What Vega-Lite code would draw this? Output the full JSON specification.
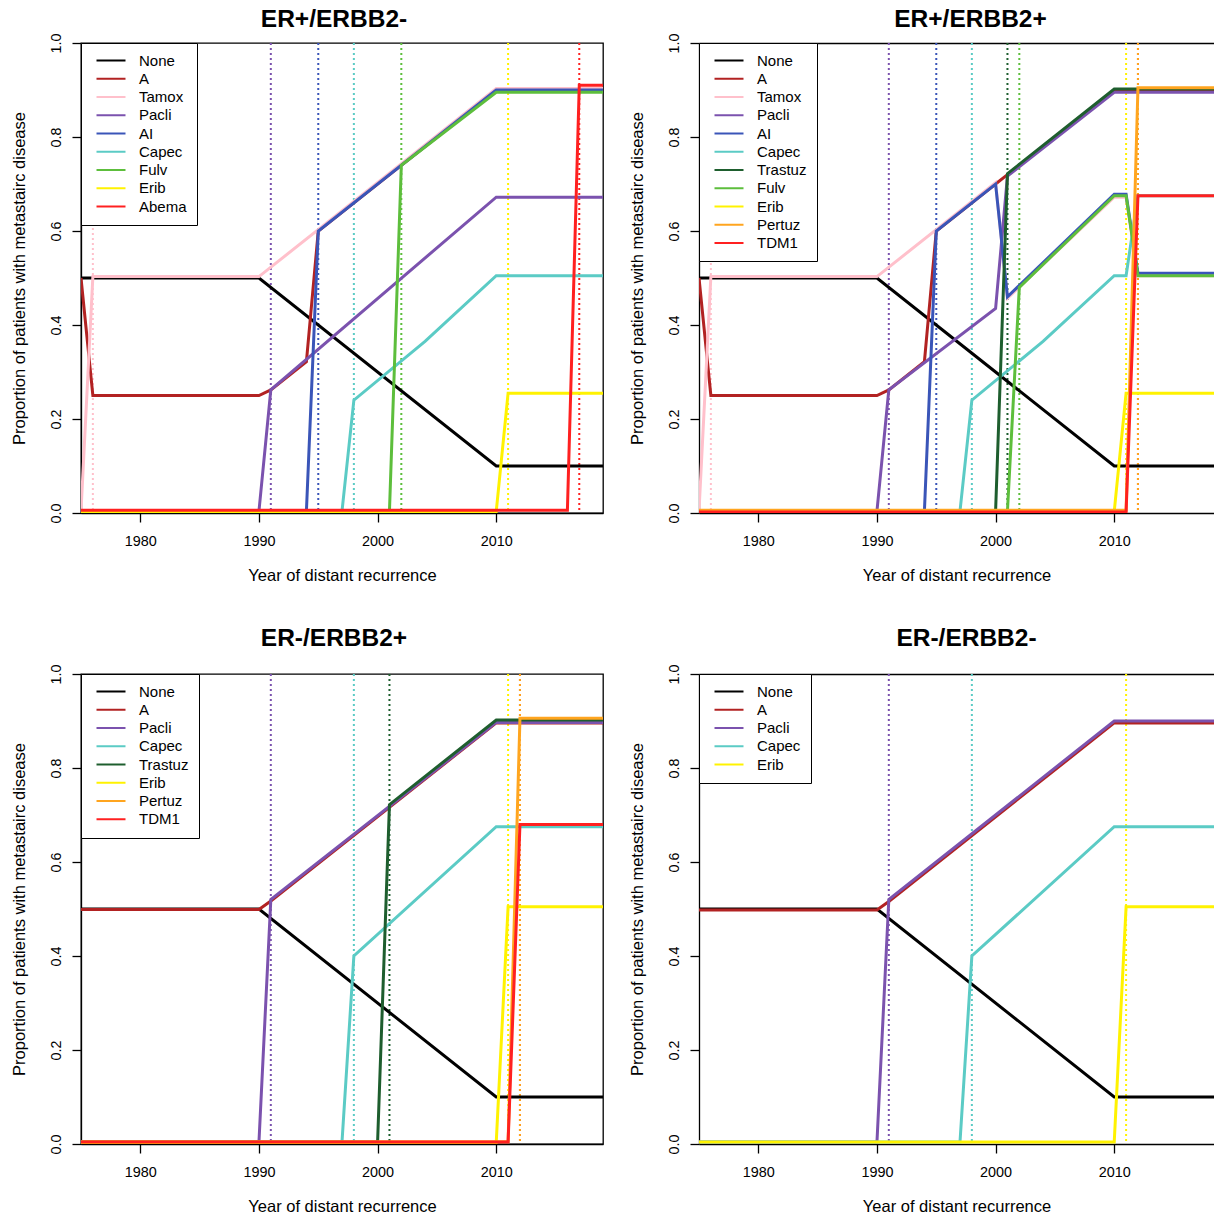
{
  "$schema": "https://vega.github.io/schema/vega-lite/v6.json",
  "padding": {"left": 10, "top": 6, "right": 0, "bottom": 0},
  "background": "white",
  "config": {
    "font": "Liberation Sans",
    "view": {"stroke": "black", "strokeWidth": 1.3},
    "axis": {"grid": false, "domainColor": "black", "domainWidth": 1.3, "tickColor": "black", "tickWidth": 1.3, "tickSize": 9, "labelColor": "black", "labelFont": "Liberation Sans", "labelFontSize": 14.4, "titleColor": "black", "titleFont": "Liberation Sans", "titleFontSize": 16.5, "titleFontWeight": "normal", "labelFlush": false, "labelOverlap": false},
    "axisX": {"labelPadding": 12, "titlePadding": 20},
    "axisY": {"labelAngle": 270, "labelAlign": "center", "labelBaseline": "alphabetic", "labelPadding": 11.5, "titlePadding": 21},
    "title": {"font": "Liberation Sans", "fontSize": 24.5, "fontWeight": "bold", "color": "black", "frame": "group", "anchor": "middle", "baseline": "alphabetic", "offset": 0.5}
  },
  "datasets": {
    "lines": [
      {"panel": "p1", "drug": "None", "year": 1975, "value": 0.5},
      {"panel": "p1", "drug": "None", "year": 1990, "value": 0.5},
      {"panel": "p1", "drug": "None", "year": 2010, "value": 0.1},
      {"panel": "p1", "drug": "None", "year": 2019, "value": 0.1},
      {"panel": "p1", "drug": "A", "year": 1975, "value": 0.5},
      {"panel": "p1", "drug": "A", "year": 1976, "value": 0.25},
      {"panel": "p1", "drug": "A", "year": 1990, "value": 0.25},
      {"panel": "p1", "drug": "A", "year": 1991, "value": 0.262},
      {"panel": "p1", "drug": "A", "year": 1994, "value": 0.322},
      {"panel": "p1", "drug": "A", "year": 1995, "value": 0.6},
      {"panel": "p1", "drug": "A", "year": 2010, "value": 0.9},
      {"panel": "p1", "drug": "A", "year": 2019, "value": 0.9},
      {"panel": "p1", "drug": "Tamox", "year": 1975, "value": 0.004},
      {"panel": "p1", "drug": "Tamox", "year": 1976, "value": 0.503},
      {"panel": "p1", "drug": "Tamox", "year": 1990, "value": 0.503},
      {"panel": "p1", "drug": "Tamox", "year": 2010, "value": 0.903},
      {"panel": "p1", "drug": "Tamox", "year": 2019, "value": 0.903},
      {"panel": "p1", "drug": "Pacli", "year": 1975, "value": 0.004},
      {"panel": "p1", "drug": "Pacli", "year": 1990, "value": 0.004},
      {"panel": "p1", "drug": "Pacli", "year": 1991, "value": 0.262},
      {"panel": "p1", "drug": "Pacli", "year": 2010, "value": 0.672},
      {"panel": "p1", "drug": "Pacli", "year": 2019, "value": 0.672},
      {"panel": "p1", "drug": "AI", "year": 1975, "value": 0.004},
      {"panel": "p1", "drug": "AI", "year": 1994, "value": 0.004},
      {"panel": "p1", "drug": "AI", "year": 1995, "value": 0.6},
      {"panel": "p1", "drug": "AI", "year": 2010, "value": 0.9},
      {"panel": "p1", "drug": "AI", "year": 2019, "value": 0.9},
      {"panel": "p1", "drug": "Capec", "year": 1975, "value": 0.004},
      {"panel": "p1", "drug": "Capec", "year": 1997, "value": 0.004},
      {"panel": "p1", "drug": "Capec", "year": 1998, "value": 0.24},
      {"panel": "p1", "drug": "Capec", "year": 2004, "value": 0.365},
      {"panel": "p1", "drug": "Capec", "year": 2010, "value": 0.505},
      {"panel": "p1", "drug": "Capec", "year": 2019, "value": 0.505},
      {"panel": "p1", "drug": "Fulv", "year": 1975, "value": 0.004},
      {"panel": "p1", "drug": "Fulv", "year": 2001, "value": 0.004},
      {"panel": "p1", "drug": "Fulv", "year": 2002, "value": 0.74},
      {"panel": "p1", "drug": "Fulv", "year": 2010, "value": 0.895},
      {"panel": "p1", "drug": "Fulv", "year": 2019, "value": 0.895},
      {"panel": "p1", "drug": "Erib", "year": 1975, "value": 0.003},
      {"panel": "p1", "drug": "Erib", "year": 2010, "value": 0.003},
      {"panel": "p1", "drug": "Erib", "year": 2011, "value": 0.255},
      {"panel": "p1", "drug": "Erib", "year": 2019, "value": 0.255},
      {"panel": "p1", "drug": "Abema", "year": 1975, "value": 0.006},
      {"panel": "p1", "drug": "Abema", "year": 2016, "value": 0.006},
      {"panel": "p1", "drug": "Abema", "year": 2017, "value": 0.91},
      {"panel": "p1", "drug": "Abema", "year": 2019, "value": 0.91},

      {"panel": "p2", "drug": "None", "year": 1975, "value": 0.5},
      {"panel": "p2", "drug": "None", "year": 1990, "value": 0.5},
      {"panel": "p2", "drug": "None", "year": 2010, "value": 0.1},
      {"panel": "p2", "drug": "None", "year": 2019, "value": 0.1},
      {"panel": "p2", "drug": "A", "year": 1975, "value": 0.5},
      {"panel": "p2", "drug": "A", "year": 1976, "value": 0.25},
      {"panel": "p2", "drug": "A", "year": 1990, "value": 0.25},
      {"panel": "p2", "drug": "A", "year": 1991, "value": 0.262},
      {"panel": "p2", "drug": "A", "year": 1994, "value": 0.322},
      {"panel": "p2", "drug": "A", "year": 1995, "value": 0.6},
      {"panel": "p2", "drug": "A", "year": 2000, "value": 0.7},
      {"panel": "p2", "drug": "A", "year": 2001, "value": 0.72},
      {"panel": "p2", "drug": "A", "year": 2010, "value": 0.9},
      {"panel": "p2", "drug": "A", "year": 2019, "value": 0.9},
      {"panel": "p2", "drug": "Tamox", "year": 1975, "value": 0.004},
      {"panel": "p2", "drug": "Tamox", "year": 1976, "value": 0.503},
      {"panel": "p2", "drug": "Tamox", "year": 1990, "value": 0.503},
      {"panel": "p2", "drug": "Tamox", "year": 2000, "value": 0.703},
      {"panel": "p2", "drug": "Tamox", "year": 2001, "value": 0.457},
      {"panel": "p2", "drug": "Tamox", "year": 2010, "value": 0.672},
      {"panel": "p2", "drug": "Tamox", "year": 2011, "value": 0.672},
      {"panel": "p2", "drug": "Tamox", "year": 2012, "value": 0.505},
      {"panel": "p2", "drug": "Tamox", "year": 2019, "value": 0.505},
      {"panel": "p2", "drug": "Pacli", "year": 1975, "value": 0.004},
      {"panel": "p2", "drug": "Pacli", "year": 1990, "value": 0.004},
      {"panel": "p2", "drug": "Pacli", "year": 1991, "value": 0.262},
      {"panel": "p2", "drug": "Pacli", "year": 2000, "value": 0.435},
      {"panel": "p2", "drug": "Pacli", "year": 2001, "value": 0.717},
      {"panel": "p2", "drug": "Pacli", "year": 2010, "value": 0.895},
      {"panel": "p2", "drug": "Pacli", "year": 2019, "value": 0.895},
      {"panel": "p2", "drug": "AI", "year": 1975, "value": 0.004},
      {"panel": "p2", "drug": "AI", "year": 1994, "value": 0.004},
      {"panel": "p2", "drug": "AI", "year": 1995, "value": 0.6},
      {"panel": "p2", "drug": "AI", "year": 2000, "value": 0.7},
      {"panel": "p2", "drug": "AI", "year": 2001, "value": 0.46},
      {"panel": "p2", "drug": "AI", "year": 2010, "value": 0.678},
      {"panel": "p2", "drug": "AI", "year": 2011, "value": 0.678},
      {"panel": "p2", "drug": "AI", "year": 2012, "value": 0.51},
      {"panel": "p2", "drug": "AI", "year": 2019, "value": 0.51},
      {"panel": "p2", "drug": "Capec", "year": 1975, "value": 0.004},
      {"panel": "p2", "drug": "Capec", "year": 1997, "value": 0.004},
      {"panel": "p2", "drug": "Capec", "year": 1998, "value": 0.24},
      {"panel": "p2", "drug": "Capec", "year": 2004, "value": 0.365},
      {"panel": "p2", "drug": "Capec", "year": 2010, "value": 0.505},
      {"panel": "p2", "drug": "Capec", "year": 2011, "value": 0.505},
      {"panel": "p2", "drug": "Capec", "year": 2012, "value": 0.675},
      {"panel": "p2", "drug": "Capec", "year": 2019, "value": 0.675},
      {"panel": "p2", "drug": "Trastuz", "year": 1975, "value": 0.004},
      {"panel": "p2", "drug": "Trastuz", "year": 2000, "value": 0.004},
      {"panel": "p2", "drug": "Trastuz", "year": 2001, "value": 0.722},
      {"panel": "p2", "drug": "Trastuz", "year": 2010, "value": 0.902},
      {"panel": "p2", "drug": "Trastuz", "year": 2019, "value": 0.902},
      {"panel": "p2", "drug": "Fulv", "year": 1975, "value": 0.004},
      {"panel": "p2", "drug": "Fulv", "year": 2001, "value": 0.004},
      {"panel": "p2", "drug": "Fulv", "year": 2002, "value": 0.48},
      {"panel": "p2", "drug": "Fulv", "year": 2010, "value": 0.675},
      {"panel": "p2", "drug": "Fulv", "year": 2011, "value": 0.675},
      {"panel": "p2", "drug": "Fulv", "year": 2012, "value": 0.505},
      {"panel": "p2", "drug": "Fulv", "year": 2019, "value": 0.505},
      {"panel": "p2", "drug": "Erib", "year": 1975, "value": 0.003},
      {"panel": "p2", "drug": "Erib", "year": 2010, "value": 0.003},
      {"panel": "p2", "drug": "Erib", "year": 2011, "value": 0.255},
      {"panel": "p2", "drug": "Erib", "year": 2019, "value": 0.255},
      {"panel": "p2", "drug": "Pertuz", "year": 1975, "value": 0.006},
      {"panel": "p2", "drug": "Pertuz", "year": 2011, "value": 0.006},
      {"panel": "p2", "drug": "Pertuz", "year": 2012, "value": 0.905},
      {"panel": "p2", "drug": "Pertuz", "year": 2019, "value": 0.905},
      {"panel": "p2", "drug": "TDM1", "year": 1975, "value": 0.002},
      {"panel": "p2", "drug": "TDM1", "year": 2011, "value": 0.002},
      {"panel": "p2", "drug": "TDM1", "year": 2012, "value": 0.675},
      {"panel": "p2", "drug": "TDM1", "year": 2019, "value": 0.675},

      {"panel": "p3", "drug": "None", "year": 1975, "value": 0.5},
      {"panel": "p3", "drug": "None", "year": 1990, "value": 0.5},
      {"panel": "p3", "drug": "None", "year": 2010, "value": 0.1},
      {"panel": "p3", "drug": "None", "year": 2019, "value": 0.1},
      {"panel": "p3", "drug": "A", "year": 1975, "value": 0.499},
      {"panel": "p3", "drug": "A", "year": 1990, "value": 0.499},
      {"panel": "p3", "drug": "A", "year": 1991, "value": 0.517},
      {"panel": "p3", "drug": "A", "year": 2010, "value": 0.896},
      {"panel": "p3", "drug": "A", "year": 2019, "value": 0.896},
      {"panel": "p3", "drug": "Pacli", "year": 1975, "value": 0.004},
      {"panel": "p3", "drug": "Pacli", "year": 1990, "value": 0.004},
      {"panel": "p3", "drug": "Pacli", "year": 1991, "value": 0.52},
      {"panel": "p3", "drug": "Pacli", "year": 2010, "value": 0.897},
      {"panel": "p3", "drug": "Pacli", "year": 2019, "value": 0.897},
      {"panel": "p3", "drug": "Capec", "year": 1975, "value": 0.004},
      {"panel": "p3", "drug": "Capec", "year": 1997, "value": 0.004},
      {"panel": "p3", "drug": "Capec", "year": 1998, "value": 0.4},
      {"panel": "p3", "drug": "Capec", "year": 2010, "value": 0.675},
      {"panel": "p3", "drug": "Capec", "year": 2019, "value": 0.675},
      {"panel": "p3", "drug": "Trastuz", "year": 1975, "value": 0.004},
      {"panel": "p3", "drug": "Trastuz", "year": 2000, "value": 0.004},
      {"panel": "p3", "drug": "Trastuz", "year": 2001, "value": 0.722},
      {"panel": "p3", "drug": "Trastuz", "year": 2010, "value": 0.902},
      {"panel": "p3", "drug": "Trastuz", "year": 2019, "value": 0.902},
      {"panel": "p3", "drug": "Erib", "year": 1975, "value": 0.003},
      {"panel": "p3", "drug": "Erib", "year": 2010, "value": 0.003},
      {"panel": "p3", "drug": "Erib", "year": 2011, "value": 0.505},
      {"panel": "p3", "drug": "Erib", "year": 2019, "value": 0.505},
      {"panel": "p3", "drug": "Pertuz", "year": 1975, "value": 0.005},
      {"panel": "p3", "drug": "Pertuz", "year": 2011, "value": 0.005},
      {"panel": "p3", "drug": "Pertuz", "year": 2012, "value": 0.906},
      {"panel": "p3", "drug": "Pertuz", "year": 2019, "value": 0.906},
      {"panel": "p3", "drug": "TDM1", "year": 1975, "value": 0.004},
      {"panel": "p3", "drug": "TDM1", "year": 2011, "value": 0.004},
      {"panel": "p3", "drug": "TDM1", "year": 2012, "value": 0.68},
      {"panel": "p3", "drug": "TDM1", "year": 2019, "value": 0.68},

      {"panel": "p4", "drug": "None", "year": 1975, "value": 0.5},
      {"panel": "p4", "drug": "None", "year": 1990, "value": 0.5},
      {"panel": "p4", "drug": "None", "year": 2010, "value": 0.1},
      {"panel": "p4", "drug": "None", "year": 2019, "value": 0.1},
      {"panel": "p4", "drug": "A", "year": 1975, "value": 0.498},
      {"panel": "p4", "drug": "A", "year": 1990, "value": 0.498},
      {"panel": "p4", "drug": "A", "year": 1991, "value": 0.516},
      {"panel": "p4", "drug": "A", "year": 2010, "value": 0.896},
      {"panel": "p4", "drug": "A", "year": 2019, "value": 0.896},
      {"panel": "p4", "drug": "Pacli", "year": 1975, "value": 0.004},
      {"panel": "p4", "drug": "Pacli", "year": 1990, "value": 0.004},
      {"panel": "p4", "drug": "Pacli", "year": 1991, "value": 0.52},
      {"panel": "p4", "drug": "Pacli", "year": 2010, "value": 0.9},
      {"panel": "p4", "drug": "Pacli", "year": 2019, "value": 0.9},
      {"panel": "p4", "drug": "Capec", "year": 1975, "value": 0.004},
      {"panel": "p4", "drug": "Capec", "year": 1997, "value": 0.004},
      {"panel": "p4", "drug": "Capec", "year": 1998, "value": 0.4},
      {"panel": "p4", "drug": "Capec", "year": 2010, "value": 0.675},
      {"panel": "p4", "drug": "Capec", "year": 2019, "value": 0.675},
      {"panel": "p4", "drug": "Erib", "year": 1975, "value": 0.004},
      {"panel": "p4", "drug": "Erib", "year": 2010, "value": 0.004},
      {"panel": "p4", "drug": "Erib", "year": 2011, "value": 0.505},
      {"panel": "p4", "drug": "Erib", "year": 2019, "value": 0.505}
    ],
    "approvals": [
      {"panel": "p1", "drug": "Tamox", "year": 1976},
      {"panel": "p1", "drug": "Pacli", "year": 1991},
      {"panel": "p1", "drug": "AI", "year": 1995},
      {"panel": "p1", "drug": "Capec", "year": 1998},
      {"panel": "p1", "drug": "Fulv", "year": 2002},
      {"panel": "p1", "drug": "Erib", "year": 2011},
      {"panel": "p1", "drug": "Abema", "year": 2017},
      {"panel": "p2", "drug": "Tamox", "year": 1976},
      {"panel": "p2", "drug": "Pacli", "year": 1991},
      {"panel": "p2", "drug": "AI", "year": 1995},
      {"panel": "p2", "drug": "Capec", "year": 1998},
      {"panel": "p2", "drug": "Trastuz", "year": 2001},
      {"panel": "p2", "drug": "Fulv", "year": 2002},
      {"panel": "p2", "drug": "Erib", "year": 2011},
      {"panel": "p2", "drug": "TDM1", "year": 2012},
      {"panel": "p2", "drug": "Pertuz", "year": 2012},
      {"panel": "p3", "drug": "Pacli", "year": 1991},
      {"panel": "p3", "drug": "Capec", "year": 1998},
      {"panel": "p3", "drug": "Trastuz", "year": 2001},
      {"panel": "p3", "drug": "Erib", "year": 2011},
      {"panel": "p3", "drug": "TDM1", "year": 2012},
      {"panel": "p3", "drug": "Pertuz", "year": 2012},
      {"panel": "p4", "drug": "Pacli", "year": 1991},
      {"panel": "p4", "drug": "Capec", "year": 1998},
      {"panel": "p4", "drug": "Erib", "year": 2011}
    ]
  },
  "vconcat": [
    {
      "hconcat": [
        {
          "width": 522, "height": 470,
          "title": {"text": "ER+/ERBB2-", "dx": -8},
          "layer": [
            {
              "data": {"name": "approvals"},
              "transform": [{"filter": "datum.panel === 'p1'"}],
              "mark": {"type": "rule", "strokeDash": [2, 3], "strokeWidth": 2},
              "encoding": {
                "x": {"field": "year", "type": "quantitative", "scale": {"domain": [1975, 2019], "nice": false, "zero": false}, "axis": {"values": [1980, 1990, 2000, 2010], "format": "d", "title": "Year of distant recurrence"}},
                "stroke": {"field": "drug", "type": "nominal", "scale": {"domain": ["Tamox", "Pacli", "AI", "Capec", "Fulv", "Erib", "Abema"], "range": ["#FFC0CB", "#7B52AE", "#3A55B8", "#5BCBC5", "#5DBE3C", "#FFF200", "#FF2020"]}, "legend": null}
              }
            },
            {
              "data": {"name": "lines"},
              "transform": [{"filter": "datum.panel === 'p1'"}],
              "mark": {"type": "line", "strokeWidth": 3, "clip": true},
              "encoding": {
                "x": {"field": "year", "type": "quantitative", "scale": {"domain": [1975, 2019], "nice": false, "zero": false}, "axis": {"values": [1980, 1990, 2000, 2010], "format": "d", "title": "Year of distant recurrence"}},
                "y": {"field": "value", "type": "quantitative", "scale": {"domain": [0, 1], "nice": false, "zero": false}, "axis": {"values": [0, 0.2, 0.4, 0.6, 0.8, 1], "format": ".1f", "title": "Proportion of patients with metastairc disease"}},
                "color": {"field": "drug", "type": "nominal", "scale": {"domain": ["None", "A", "Tamox", "Pacli", "AI", "Capec", "Fulv", "Erib", "Abema"], "range": ["#000000", "#B22222", "#FFC0CB", "#7B52AE", "#3A55B8", "#5BCBC5", "#5DBE3C", "#FFF200", "#FF2020"]}, "legend": {"title": null, "orient": "top-left", "offset": 0, "padding": 10, "strokeColor": "black", "fillColor": "white", "labelFont": "Liberation Sans", "labelFontSize": 15, "labelColor": "black", "symbolType": "M-0.4,0H5.4", "symbolSize": 100, "symbolStrokeWidth": 2, "labelOffset": 33, "rowPadding": 2.25, "cornerRadius": 0, "labelLimit": 300}}
              }
            }
          ]
        },
        {
          "width": 515, "height": 470,
          "view": {"stroke": null},
          "title": {"text": "ER+/ERBB2+", "dx": 14},
          "resolve": {"axis": {"x": "independent"}},
          "layer": [
            {
              "data": {"name": "approvals"},
              "transform": [{"filter": "datum.panel === 'p2'"}],
              "mark": {"type": "rule", "strokeDash": [2, 3], "strokeWidth": 2},
              "encoding": {
                "x": {"field": "year", "type": "quantitative", "scale": {"domain": [1975, 2018.41], "nice": false, "zero": false}, "axis": {"orient": "top", "labels": false, "ticks": false, "title": null, "domain": true}},
                "stroke": {"field": "drug", "type": "nominal", "scale": {"domain": ["Tamox", "Pacli", "AI", "Capec", "Trastuz", "Fulv", "Erib", "Pertuz", "TDM1"], "range": ["#FFC0CB", "#7B52AE", "#3A55B8", "#5BCBC5", "#1E5E2E", "#5DBE3C", "#FFF200", "#FFA51F", "#FF2020"]}, "legend": null}
              }
            },
            {
              "data": {"name": "lines"},
              "transform": [{"filter": "datum.panel === 'p2'"}],
              "mark": {"type": "line", "strokeWidth": 3, "clip": true},
              "encoding": {
                "x": {"field": "year", "type": "quantitative", "scale": {"domain": [1975, 2018.41], "nice": false, "zero": false}, "axis": {"values": [1980, 1990, 2000, 2010], "format": "d", "title": "Year of distant recurrence"}},
                "y": {"field": "value", "type": "quantitative", "scale": {"domain": [0, 1], "nice": false, "zero": false}, "axis": {"values": [0, 0.2, 0.4, 0.6, 0.8, 1], "format": ".1f", "title": "Proportion of patients with metastairc disease"}},
                "color": {"field": "drug", "type": "nominal", "scale": {"domain": ["None", "A", "Tamox", "Pacli", "AI", "Capec", "Trastuz", "Fulv", "Erib", "Pertuz", "TDM1"], "range": ["#000000", "#B22222", "#FFC0CB", "#7B52AE", "#3A55B8", "#5BCBC5", "#1E5E2E", "#5DBE3C", "#FFF200", "#FFA51F", "#FF2020"]}, "legend": {"title": null, "orient": "top-left", "offset": 0, "padding": 10, "strokeColor": "black", "fillColor": "white", "labelFont": "Liberation Sans", "labelFontSize": 15, "labelColor": "black", "symbolType": "M-0.4,0H5.4", "symbolSize": 100, "symbolStrokeWidth": 2, "labelOffset": 33, "rowPadding": 2.25, "cornerRadius": 0, "labelLimit": 300}}
              }
            }
          ]
        }
      ],
      "spacing": 25,
      "resolve": {"scale": {"color": "independent", "stroke": "independent", "x": "independent", "y": "independent"}, "legend": {"color": "independent"}}
    },
    {
      "hconcat": [
        {
          "width": 522, "height": 470,
          "title": {"text": "ER-/ERBB2+", "dx": -8, "offset": 12},
          "layer": [
            {
              "data": {"name": "approvals"},
              "transform": [{"filter": "datum.panel === 'p3'"}],
              "mark": {"type": "rule", "strokeDash": [2, 3], "strokeWidth": 2},
              "encoding": {
                "x": {"field": "year", "type": "quantitative", "scale": {"domain": [1975, 2019], "nice": false, "zero": false}, "axis": {"values": [1980, 1990, 2000, 2010], "format": "d", "title": "Year of distant recurrence"}},
                "stroke": {"field": "drug", "type": "nominal", "scale": {"domain": ["Pacli", "Capec", "Trastuz", "Erib", "Pertuz", "TDM1"], "range": ["#7B52AE", "#5BCBC5", "#1E5E2E", "#FFF200", "#FFA51F", "#FF2020"]}, "legend": null}
              }
            },
            {
              "data": {"name": "lines"},
              "transform": [{"filter": "datum.panel === 'p3'"}],
              "mark": {"type": "line", "strokeWidth": 3, "clip": true},
              "encoding": {
                "x": {"field": "year", "type": "quantitative", "scale": {"domain": [1975, 2019], "nice": false, "zero": false}, "axis": {"values": [1980, 1990, 2000, 2010], "format": "d", "title": "Year of distant recurrence"}},
                "y": {"field": "value", "type": "quantitative", "scale": {"domain": [0, 1], "nice": false, "zero": false}, "axis": {"values": [0, 0.2, 0.4, 0.6, 0.8, 1], "format": ".1f", "title": "Proportion of patients with metastairc disease"}},
                "color": {"field": "drug", "type": "nominal", "scale": {"domain": ["None", "A", "Pacli", "Capec", "Trastuz", "Erib", "Pertuz", "TDM1"], "range": ["#000000", "#B22222", "#7B52AE", "#5BCBC5", "#1E5E2E", "#FFF200", "#FFA51F", "#FF2020"]}, "legend": {"title": null, "orient": "top-left", "offset": 0, "padding": 10, "strokeColor": "black", "fillColor": "white", "labelFont": "Liberation Sans", "labelFontSize": 15, "labelColor": "black", "symbolType": "M-0.4,0H5.4", "symbolSize": 100, "symbolStrokeWidth": 2, "labelOffset": 33, "rowPadding": 2.25, "cornerRadius": 0, "labelLimit": 300}}
              }
            }
          ]
        },
        {
          "width": 515, "height": 470,
          "view": {"stroke": null},
          "title": {"text": "ER-/ERBB2-", "dx": 10, "offset": 12},
          "resolve": {"axis": {"x": "independent"}},
          "layer": [
            {
              "data": {"name": "approvals"},
              "transform": [{"filter": "datum.panel === 'p4'"}],
              "mark": {"type": "rule", "strokeDash": [2, 3], "strokeWidth": 2},
              "encoding": {
                "x": {"field": "year", "type": "quantitative", "scale": {"domain": [1975, 2018.41], "nice": false, "zero": false}, "axis": {"orient": "top", "labels": false, "ticks": false, "title": null, "domain": true}},
                "stroke": {"field": "drug", "type": "nominal", "scale": {"domain": ["Pacli", "Capec", "Erib"], "range": ["#7B52AE", "#5BCBC5", "#FFF200"]}, "legend": null}
              }
            },
            {
              "data": {"name": "lines"},
              "transform": [{"filter": "datum.panel === 'p4'"}],
              "mark": {"type": "line", "strokeWidth": 3, "clip": true},
              "encoding": {
                "x": {"field": "year", "type": "quantitative", "scale": {"domain": [1975, 2018.41], "nice": false, "zero": false}, "axis": {"values": [1980, 1990, 2000, 2010], "format": "d", "title": "Year of distant recurrence"}},
                "y": {"field": "value", "type": "quantitative", "scale": {"domain": [0, 1], "nice": false, "zero": false}, "axis": {"values": [0, 0.2, 0.4, 0.6, 0.8, 1], "format": ".1f", "title": "Proportion of patients with metastairc disease"}},
                "color": {"field": "drug", "type": "nominal", "scale": {"domain": ["None", "A", "Pacli", "Capec", "Erib"], "range": ["#000000", "#B22222", "#7B52AE", "#5BCBC5", "#FFF200"]}, "legend": {"title": null, "orient": "top-left", "offset": 0, "padding": 10, "strokeColor": "black", "fillColor": "white", "labelFont": "Liberation Sans", "labelFontSize": 15, "labelColor": "black", "symbolType": "M-0.4,0H5.4", "symbolSize": 100, "symbolStrokeWidth": 2, "labelOffset": 33, "rowPadding": 2.25, "cornerRadius": 0, "labelLimit": 300}}
              }
            }
          ]
        }
      ],
      "spacing": 25,
      "resolve": {"scale": {"color": "independent", "stroke": "independent", "x": "independent", "y": "independent"}, "legend": {"color": "independent"}}
    }
  ],
  "spacing": 40,
  "resolve": {"scale": {"color": "independent", "stroke": "independent", "x": "independent", "y": "independent"}, "legend": {"color": "independent"}}
}
